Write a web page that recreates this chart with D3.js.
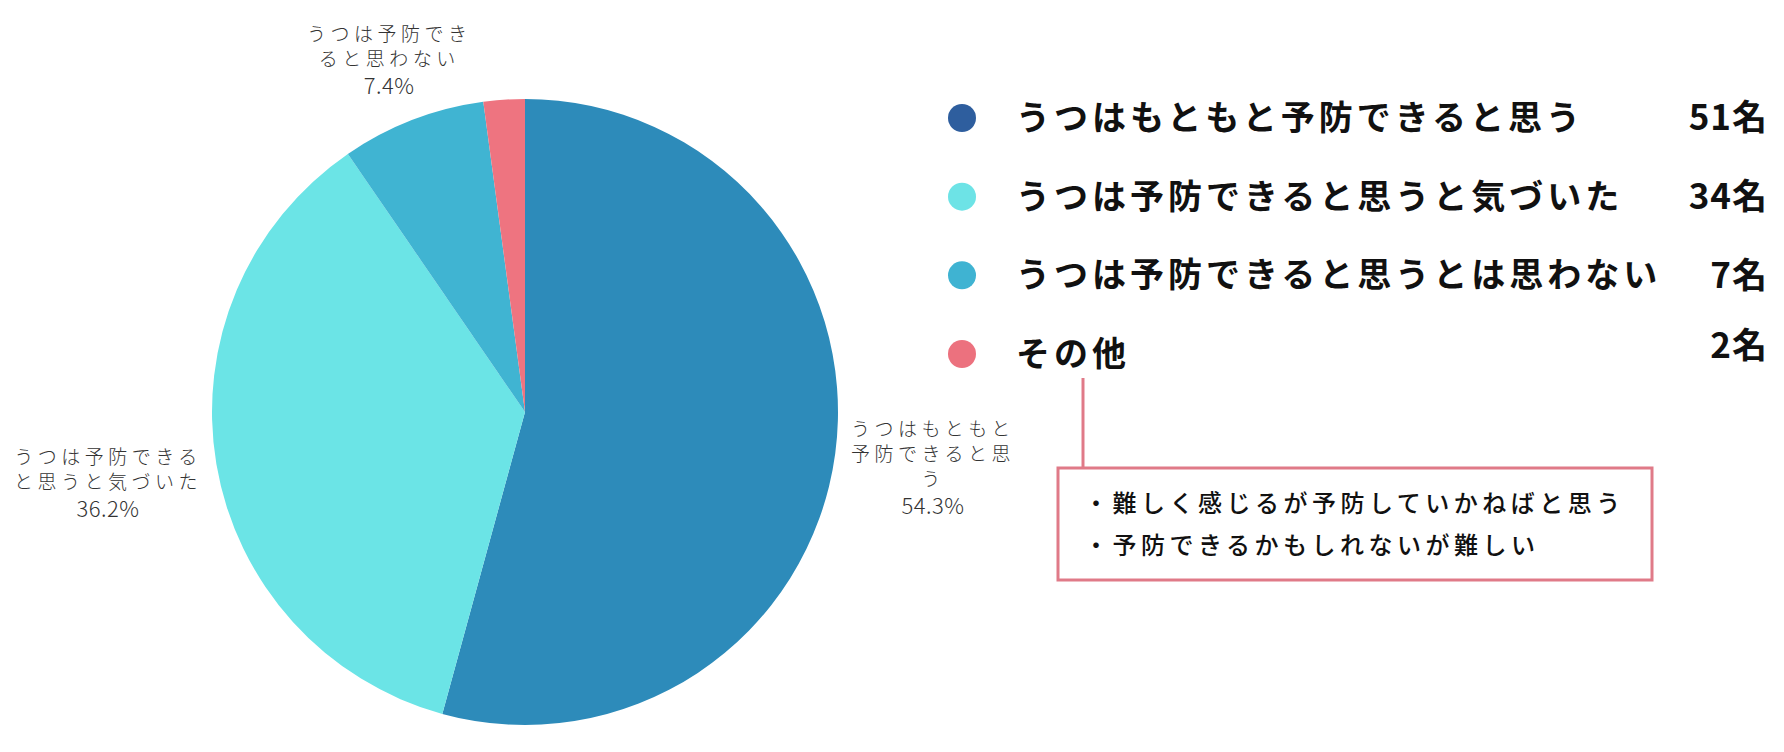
<!DOCTYPE html>
<html lang="ja">
<head>
    <meta charset="UTF-8">
    <title>うつ予防アンケート</title>
    <script src="https://d3js.org/d3.v7.min.js"></script>
    <style>
        body { margin: 0; background: #fff; }
        svg text { font-family: "Noto Sans CJK JP", "Noto Sans", sans-serif; }
        .slice-label { font-size: 19px; font-weight: 300; fill: #333; letter-spacing: 4.5px; }
        .slice-label .pct { letter-spacing: 0.5px; font-size: 22px; }
        .legend-text { font-size: 34px; font-weight: 700; fill: #111; letter-spacing: 4px; }
        .legend-count { font-size: 35px; font-weight: 700; fill: #111; letter-spacing: 1px; }
        .note-text { font-size: 24px; font-weight: 500; fill: #111; letter-spacing: 4.5px; }
    </style>
</head>
<body>
    <script>
        // data
        const categories = [
            "うつはもともと予防できると思う",
            "うつは予防できると思うと気づいた",
            "うつは予防できると思うとは思わない",
            "その他"
        ];
        const counts = [51, 34, 7, 2];
        const percentLabels = ["54.3%", "36.2%", "7.4%", null];
        // slice labels as they are wrapped in the picture
        const sliceLabelLines = [
            ["うつはもともと", "予防できると思", "う"],
            ["うつは予防できる", "と思うと気づいた"],
            ["うつは予防でき", "ると思わない"],
            null
        ];
        const sliceColors = ["#2d8bba", "#6be4e6", "#40b4d2", "#ee7480"];
        const legendColors = ["#2e5e9e", "#6de3e6", "#3fb3d2", "#ec717e"];
        const otherNotes = [
            "・難しく感じるが予防していかねばと思う",
            "・予防できるかもしれないが難しい"
        ];

        const width = 1784;
        const height = 752;

        const svg = d3.select("body").append("svg")
            .attr("width", width)
            .attr("height", height);

        // pie
        const cx = 525, cy = 412, radius = 313;
        const rows = categories.map((c, i) => ({
            name: c, value: counts[i], pct: percentLabels[i],
            lines: sliceLabelLines[i], color: sliceColors[i], dot: legendColors[i]
        }));

        const pie = d3.pie().sort(null).value(d => d.value);
        const arc = d3.arc().innerRadius(0).outerRadius(radius);
        const arcs = pie(rows);

        const pieG = svg.append("g").attr("transform", `translate(${cx},${cy})`);
        pieG.selectAll("path")
            .data(arcs)
            .enter().append("path")
            .attr("d", arc)
            .attr("fill", d => d.data.color);

        // labels outside the pie, pushed out by the size of the text block
        const labelR = 330;
        arcs.filter(d => d.data.lines).forEach(d => {
            const g = pieG.append("g");
            const t = g.append("text").attr("class", "slice-label").attr("text-anchor", "middle");
            const all = d.data.lines.concat([d.data.pct]);
            let y = 0;
            all.forEach((line, k) => {
                const last = k === all.length - 1;
                if (k > 0) y += last ? 28 : 25;
                t.append("tspan").attr("class", last ? "pct" : null)
                    .attr("x", 0).attr("y", y).text(line);
            });
            const bb = t.node().getBBox();
            const mid = (d.startAngle + d.endAngle) / 2;
            const s = Math.sin(mid), c = -Math.cos(mid);
            const off = Math.sqrt(Math.pow(bb.width / 2 * s, 2) + Math.pow(bb.height / 2 * c, 2));
            const px = (labelR + off) * s;
            const py = (labelR + off) * c;
            g.attr("transform", `translate(${px - (bb.x + bb.width / 2)},${py - (bb.y + bb.height / 2)})`);
        });

        // legend
        const legendY = d3.scalePoint().domain(categories).range([118, 354]);
        const legend = svg.append("g");
        const item = legend.selectAll("g")
            .data(rows)
            .enter().append("g")
            .attr("transform", d => `translate(0,${legendY(d.name)})`);

        item.append("circle")
            .attr("cx", 962)
            .attr("r", 14)
            .attr("fill", d => d.dot);

        item.append("text")
            .attr("class", "legend-text")
            .attr("x", 1016)
            .attr("dy", "0.35em")
            .text(d => d.name);

        item.append("text")
            .attr("class", "legend-count")
            .attr("x", 1768)
            .attr("dy", (d, i) => i === 3 ? "0.12em" : "0.35em")
            .attr("text-anchor", "end")
            .text(d => d.value + "名");

        // callout for その他
        const noteColor = "#e07a88";
        svg.append("line")
            .attr("x1", 1083).attr("x2", 1083)
            .attr("y1", 378).attr("y2", 468)
            .attr("stroke", noteColor)
            .attr("stroke-width", 3);

        svg.append("rect")
            .attr("x", 1058).attr("y", 468)
            .attr("width", 594).attr("height", 112)
            .attr("fill", "#fff")
            .attr("stroke", noteColor)
            .attr("stroke-width", 3);

        svg.append("g").selectAll("text")
            .data(otherNotes)
            .enter().append("text")
            .attr("class", "note-text")
            .attr("x", 1084)
            .attr("y", (d, i) => 504 + i * 42)
            .attr("dy", "0.35em")
            .text(d => d);
    </script>
</body>
</html>
